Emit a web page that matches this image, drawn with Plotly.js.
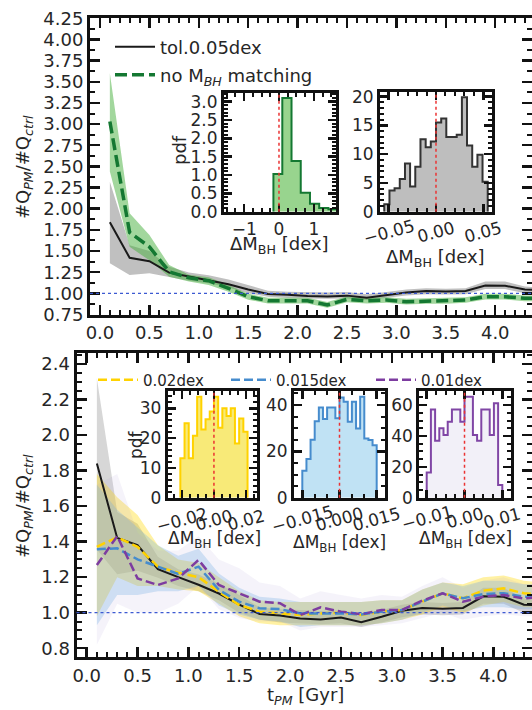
<!DOCTYPE html>
<html><head><meta charset="utf-8">
<script src="https://cdn.plot.ly/plotly-3.0.1.min.js"></script>
<style>html,body{margin:0;padding:0;background:#fff}#chart{width:532px;height:710px}</style>
</head><body><div id="chart"></div>
<script>
// ---------------- data ----------------
const tPM = [0.1,0.3,0.5,0.7,0.9,1.1,1.3,1.5,1.7,1.9,2.1,2.3,2.5,2.7,2.9,3.1,3.3,3.5,3.7,3.9,4.1,4.3,4.5];

// tol. 0.05 dex (black) and its band
const tol005 = [1.84,1.42,1.38,1.245,1.2,1.157,1.108,1.045,0.993,0.984,0.968,0.962,0.973,0.947,0.977,1.011,1.027,1.022,1.027,1.092,1.09,1.045,1.04];
const tol005Lo = [1.355,1.216,1.236,1.196,1.15,1.12,1.07,1.0,0.96,0.945,0.94,0.935,0.94,0.92,0.945,0.975,0.99,0.985,0.99,1.05,1.05,1.0,0.99];
const tol005Hi = [2.32,1.567,1.50,1.315,1.245,1.215,1.165,1.10,1.03,1.02,1.015,1.01,1.015,0.99,1.015,1.045,1.06,1.055,1.06,1.14,1.14,1.08,1.07];

// no M_BH matching (green)
const noBH = [3.03,1.72,1.55,1.255,1.184,1.149,1.059,0.96,0.913,0.913,0.913,0.862,0.929,0.913,0.921,0.9,0.909,0.909,0.921,0.96,0.96,0.941,0.941];
const noBHLo = [2.44,1.55,1.39,1.196,1.14,1.10,1.02,0.925,0.88,0.88,0.88,0.83,0.895,0.88,0.888,0.868,0.876,0.876,0.888,0.927,0.927,0.908,0.908];
const noBHHi = [3.60,1.946,1.69,1.335,1.22,1.19,1.10,0.995,0.948,0.948,0.948,0.897,0.963,0.948,0.955,0.935,0.943,0.943,0.955,0.994,0.994,0.975,0.975];

// tolerances 0.02, 0.015, 0.01 dex
const tol002 = [1.371,1.424,1.371,1.259,1.225,1.20,1.118,1.043,1.006,0.996,0.987,0.996,1.0,0.987,1.006,1.015,1.062,1.109,1.081,1.124,1.137,1.109,1.10];
const tol002Lo = [0.98,1.2,1.15,1.15,1.13,1.12,1.05,0.98,0.94,0.93,0.93,0.93,0.93,0.93,0.94,0.96,0.99,1.03,1.0,1.04,1.06,1.03,1.03];
const tol002Hi = [1.78,1.65,1.55,1.38,1.30,1.28,1.20,1.12,1.07,1.06,1.06,1.06,1.06,1.06,1.07,1.07,1.13,1.17,1.16,1.2,1.21,1.18,1.17];
const tol0015 = [1.357,1.362,1.30,1.259,1.218,1.259,1.128,1.062,1.025,1.02,0.996,0.996,0.996,0.99,1.006,1.015,1.062,1.109,1.081,1.105,1.11,1.09,1.09];
const tol0015Lo = [0.93,1.10,1.10,1.12,1.12,1.15,1.04,0.99,0.96,0.95,0.92,0.93,0.93,0.93,0.94,0.96,1.0,1.04,1.01,1.03,1.03,1.02,1.02];
const tol0015Hi = [1.72,1.58,1.48,1.38,1.32,1.36,1.22,1.14,1.09,1.08,1.06,1.06,1.06,1.06,1.07,1.07,1.13,1.17,1.15,1.18,1.18,1.16,1.16];
const tol001 = [1.268,1.431,1.193,1.156,1.193,1.297,1.156,1.109,1.062,1.053,0.987,1.03,1.006,0.992,1.015,1.015,1.068,1.109,1.062,1.09,1.10,1.08,1.09];
const tol001Lo = [0.82,1.05,1.0,1.0,1.05,1.15,1.02,0.97,0.95,0.95,0.9,0.92,0.92,0.92,0.93,0.94,0.97,1.0,0.96,0.98,0.99,0.98,0.98];
const tol001Hi = [1.72,1.78,1.45,1.35,1.35,1.43,1.30,1.25,1.17,1.15,1.08,1.12,1.1,1.08,1.1,1.09,1.15,1.2,1.14,1.18,1.2,1.16,1.16];

// histograms of Delta M_BH (pdf)
const hNoBHEdges = [-0.16,0.095,0.36,0.625,0.89,1.155,1.42,1.685];
const hNoBH = [1.03,3.1,1.38,0.52,0.22,0.1,0.07];
const h005Edges = [-0.0547,-0.0492,-0.0438,-0.0383,-0.0328,-0.0274,-0.0219,-0.0164,-0.0109,-0.0055,0,0.0055,0.0109,0.0164,0.0219,0.0274,0.0328,0.0383,0.0438,0.0492,0.0547];
const h005 = [1.3,3.7,4.1,5.7,8.4,4.4,7.8,12.6,11.2,12.2,15.5,16.2,13.0,13.0,13.4,19.9,11.5,7.8,9.9,5.2];
const h002Edges = [-0.021,-0.018375,-0.01575,-0.013125,-0.0105,-0.007875,-0.00525,-0.002625,0,0.002625,0.00525,0.007875,0.0105,0.013125,0.01575,0.018375,0.021];
const h002 = [13.2,25,13.2,20.8,33.9,22.9,26.3,28.9,33.9,23.5,30,27.4,30,18.2,26.6,22.1];
const h0015Edges = [-0.015,-0.01333,-0.01167,-0.01,-0.00833,-0.00667,-0.005,-0.00333,-0.00167,0,0.00167,0.00333,0.005,0.00667,0.00833,0.01,0.01167,0.01333,0.015];
const h0015 = [11.6,16.7,25,33,39,34,39,39,34.3,43.3,41.4,32.8,41.4,29.9,43.6,25.6,24.9,22.7];
const h001Edges = [-0.01,-0.00889,-0.00778,-0.00667,-0.00556,-0.00444,-0.00333,-0.00222,-0.00111,0,0.00111,0.00222,0.00333,0.00444,0.00556,0.00667,0.00778,0.00889,0.01];
const h001 = [16.4,57.2,36.9,44.9,40.6,49.2,57.2,57.2,49.2,65.4,65.4,40.6,36.9,57.2,57.2,40.6,61.1,8.2];

// inset x tick values and labels (rotated)
const tick005 = [-0.05, 0, 0.05], lab005 = ['−0.05', '0.00', '0.05'];
const tick002 = [-0.02, 0, 0.02], lab002 = ['−0.02', '0.00', '0.02'];
const tick0015 = [-0.015, 0, 0.015], lab0015 = ['−0.015', '0.000', '0.015'];
const tick001 = [-0.01, 0, 0.01], lab001 = ['−0.01', '0.00', '0.01'];

// ---------------- helpers ----------------
const W = 532, H = 710;
const FONT = 'DejaVu Sans, Verdana, sans-serif';
const TXT = '#262626', AXC = '#111111';
const fx = p => p / W, fy = p => 1 - p / H;

function band(x, lo, hi, xa, ya, color) {
  return {x: x.concat(x.slice().reverse()), y: hi.concat(lo.slice().reverse()),
    xaxis: xa, yaxis: ya, type: 'scatter', mode: 'lines', fill: 'toself',
    fillcolor: color, line: {width: 0}, hoverinfo: 'skip', showlegend: false};
}
function line(x, y, xa, ya, color, width, dash, name, legend) {
  return {x: x, y: y, xaxis: xa, yaxis: ya, type: 'scatter', mode: 'lines',
    line: {color: color, width: width, dash: dash || 'solid'}, name: name || '',
    showlegend: !!name, legend: legend};
}
function stepHist(edges, h, xa, ya, fill, edge) {
  const x = [edges[0]], y = [0];
  for (let i = 0; i < h.length; i++) { x.push(edges[i]); y.push(h[i]); }
  x.push(edges[h.length]); y.push(h[h.length - 1]);
  x.push(edges[h.length]); y.push(0);
  return {x: x, y: y, xaxis: xa, yaxis: ya, type: 'scatter', mode: 'lines',
    line: {shape: 'hv', color: edge, width: 2}, fill: 'tozeroy', fillcolor: fill, showlegend: false};
}
function ax(o) {
  const base = {showline: true, linewidth: 3, linecolor: AXC, mirror: 'allticks', ticks: 'inside',
    ticklen: 10, tickwidth: 2.5, tickcolor: AXC, showgrid: false, zeroline: false, fixedrange: true,
    tickfont: {family: FONT, size: 18, color: TXT}};
  return Object.assign(base, o);
}
function minor(dt, len) { return {ticks: 'inside', ticklen: len || 5, tickwidth: 2, tickcolor: AXC, dtick: dt}; }
function insetAx(o) {
  return ax(Object.assign({ticklen: 8, tickwidth: 2.5, tickfont: {family: FONT, size: 17, color: TXT}}, o));
}

// ---------------- traces ----------------
const traces = [
  // top main panel
  band(tPM, tol005Lo, tol005Hi, 'x', 'y', 'rgb(192,192,192)'),
  band(tPM, noBHLo, noBHHi, 'x', 'y', 'rgba(70,175,60,0.5)'),
  line(tPM, tol005, 'x', 'y', '#1a1a1a', 2, 'solid', 'tol.0.05dex', 'legend'),
  line(tPM, noBH, 'x', 'y', 'rgb(20,120,50)', 3.5, '12px,5px', 'no M<sub><i>BH</i></sub> matching', 'legend2'),
  // top insets
  stepHist(hNoBHEdges, hNoBH, 'x3', 'y3', 'rgb(152,212,142)', 'rgb(20,120,50)'),
  stepHist(h005Edges, h005, 'x4', 'y4', 'rgb(190,190,190)', '#333333'),
  // bottom main panel
  band(tPM, tol005Lo, tol005Hi, 'x2', 'y2', 'rgba(150,150,150,0.38)'),
  band(tPM, tol002Lo, tol002Hi, 'x2', 'y2', 'rgba(255,215,0,0.36)'),
  band(tPM, tol0015Lo, tol0015Hi, 'x2', 'y2', 'rgba(110,175,230,0.3)'),
  band(tPM, tol001Lo, tol001Hi, 'x2', 'y2', 'rgba(175,165,220,0.13)'),
  line(tPM, tol005, 'x2', 'y2', '#1a1a1a', 2, 'solid'),
  line(tPM, tol002, 'x2', 'y2', 'rgb(255,210,0)', 2.5, '9px,4px', '0.02dex', 'legend3'),
  line(tPM, tol0015, 'x2', 'y2', 'rgb(70,140,205)', 2.5, '9px,4px', '0.015dex', 'legend4'),
  line(tPM, tol001, 'x2', 'y2', 'rgb(125,60,160)', 2.5, '9px,4px', '0.01dex', 'legend5'),
  // bottom insets
  stepHist(h002Edges, h002, 'x5', 'y5', 'rgb(248,234,120)', 'rgb(255,210,0)'),
  stepHist(h0015Edges, h0015, 'x6', 'y6', 'rgb(192,226,244)', 'rgb(70,140,205)'),
  stepHist(h001Edges, h001, 'x7', 'y7', 'rgb(242,240,248)', 'rgb(128,70,165)')
];

// ---------------- layout ----------------
const legFont = s => ({family: FONT, size: s, color: TXT});
function leg(xp, yp, s) {
  return {x: fx(xp), y: fy(yp), xanchor: 'left', yanchor: 'middle', bgcolor: 'rgba(0,0,0,0)',
    borderwidth: 0, font: legFont(s), orientation: 'v', itemwidth: 40};
}
function ann(text, xp, yp, size, angle) {
  return {text: text, x: fx(xp), y: fy(yp), xref: 'paper', yref: 'paper', showarrow: false,
    xanchor: 'center', yanchor: 'middle', textangle: angle || 0, font: {family: FONT, size: size, color: TXT}};
}
function tickAnns(vals, labs, xa, yp) {
  return vals.map((v, i) => ({text: labs[i], x: v, xref: xa, y: fy(yp), yref: 'paper', showarrow: false,
    xanchor: 'center', yanchor: 'middle', textangle: -15, font: {family: FONT, size: 17, color: TXT}}));
}
function vdot(xa, ya) {
  return {type: 'line', xref: xa, yref: ya + ' domain', x0: 0, x1: 0, y0: 0, y1: 1, layer: 'above',
    line: {color: 'rgb(235,50,50)', width: 1.5, dash: 'dot'}};
}
function hdot(xa, ya) {
  return {type: 'line', xref: xa + ' domain', yref: ya, x0: 0, x1: 1, y0: 1, y1: 1, layer: 'above',
    line: {color: 'rgb(60,90,210)', width: 1.3, dash: 'dot'}};
}

const layout = {
  width: W, height: H, margin: {l: 0, r: 0, t: 0, b: 0}, paper_bgcolor: '#fff', plot_bgcolor: 'rgba(0,0,0,0)',
  font: {family: FONT, color: TXT},
  // top main
  xaxis: ax({domain: [fx(90), 1], range: [-0.101, 4.372], dtick: 0.5, tick0: 0, tickformat: '.1f', minor: minor(0.1), anchor: 'y'}),
  yaxis: ax({domain: [fy(314.5), fy(18.3)], range: [0.75, 4.25], dtick: 0.25, tick0: 0, tickformat: '.2f', minor: minor(0.125), anchor: 'x'}),
  // bottom main
  xaxis2: ax({domain: [fx(76.5), 1], range: [-0.1003, 4.379], dtick: 0.5, tick0: 0, tickformat: '.1f', minor: minor(0.1), anchor: 'y2'}),
  yaxis2: ax({domain: [fy(657), fy(353)], range: [0.7507, 2.4614], dtick: 0.2, tick0: 0, tickformat: '.1f', minor: minor(0.05), anchor: 'x2'}),
  // top insets
  xaxis3: insetAx({domain: [fx(224), fx(336)], range: [-1.58, 1.638], tickvals: [-1, 0, 1], tickformat: 'd', minor: minor(0.25, 4), anchor: 'y3'}),
  yaxis3: insetAx({domain: [fy(211.7), fy(92.7)], range: [0, 3.245], dtick: 0.5, tick0: 0, tickformat: '.1f', minor: minor(0.1, 4), anchor: 'x3'}),
  xaxis4: insetAx({domain: [fx(380), fx(491.7)], range: [-0.0592, 0.0589], tickvals: tick005, showticklabels: false, minor: minor(0.01, 4), anchor: 'y4'}),
  yaxis4: insetAx({domain: [fy(211.7), fy(91.7)], range: [0, 20.87], dtick: 5, tick0: 0, minor: minor(1, 4), anchor: 'x4'}),
  // bottom insets
  xaxis5: insetAx({domain: [fx(167.7), fx(257.3)], range: [-0.0289, 0.0271], tickvals: tick002, showticklabels: false, minor: minor(0.005, 4), anchor: 'y5'}),
  yaxis5: insetAx({domain: [fy(497.7), fy(390.7)], range: [0, 35.9], dtick: 10, tick0: 0, minor: minor(2, 4), anchor: 'x5'}),
  xaxis6: insetAx({domain: [fx(294), fx(385)], range: [-0.01835, 0.01835], tickvals: tick0015, showticklabels: false, minor: minor(0.005, 4), anchor: 'y6'}),
  yaxis6: insetAx({domain: [fy(497.7), fy(390.7)], range: [0, 46.2], dtick: 20, tick0: 0, minor: minor(5, 4), anchor: 'x6'}),
  xaxis7: insetAx({domain: [fx(419.3), fx(511)], range: [-0.01196, 0.0123], tickvals: tick001, showticklabels: false, minor: minor(0.0025, 4), anchor: 'y7'}),
  yaxis7: insetAx({domain: [fy(497.7), fy(390.7)], range: [0, 69.3], dtick: 20, tick0: 0, minor: minor(5, 4), anchor: 'x7'}),
  legend: leg(110, 47, 18),
  legend2: leg(110, 75, 18),
  legend3: leg(93, 380, 15),
  legend4: leg(226, 380, 15),
  legend5: leg(371, 380, 15),
  shapes: [hdot('x', 'y'), hdot('x2', 'y2'), vdot('x3', 'y3'), vdot('x4', 'y4'), vdot('x5', 'y5'), vdot('x6', 'y6'), vdot('x7', 'y7')],
  annotations: [
    ann('#Q<sub><i>PM</i></sub>/#Q<sub><i>ctrl</i></sub>', 24, 167, 18, -90),
    ann('#Q<sub><i>PM</i></sub>/#Q<sub><i>ctrl</i></sub>', 24, 506, 18, -90),
    ann('t<sub><i>PM</i></sub> [Gyr]', 305, 696, 18),
    ann('pdf', 180, 150, 18, -90),
    ann('pdf', 136, 445, 17, -90),
    ann('ΔM<sub>BH</sub> [dex]', 279, 245, 18),
    ann('ΔM<sub>BH</sub> [dex]', 435, 258, 18),
    ann('ΔM<sub>BH</sub> [dex]', 214, 539, 17),
    ann('ΔM<sub>BH</sub> [dex]', 339, 543, 17),
    ann('ΔM<sub>BH</sub> [dex]', 465, 539, 17)
  ].concat(tickAnns(tick005, lab005, 'x4', 232), tickAnns(tick002, lab002, 'x5', 520),
           tickAnns(tick0015, lab0015, 'x6', 519), tickAnns(tick001, lab001, 'x7', 518))
};

Plotly.newPlot('chart', traces, layout, {staticPlot: true, displayModeBar: false});
</script></body></html>
